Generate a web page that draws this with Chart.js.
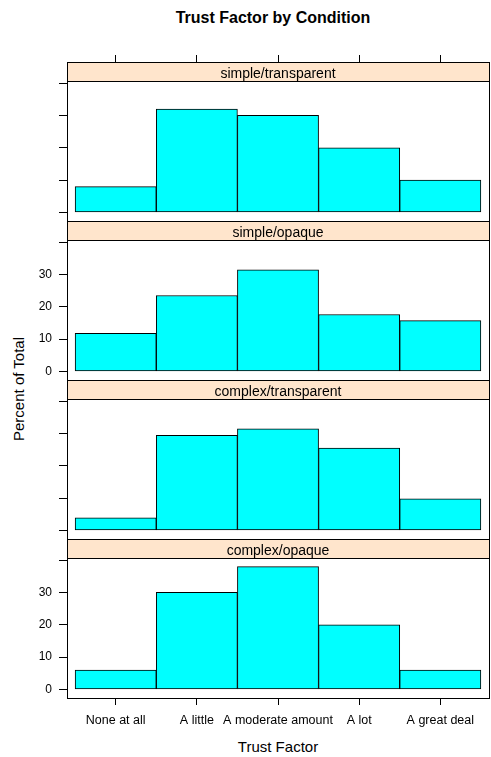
<!DOCTYPE html>
<html>
<head>
<meta charset="utf-8">
<title>Trust Factor by Condition</title>
<script src="https://cdn.jsdelivr.net/npm/chart.js@4.4.1/dist/chart.umd.min.js"></script>
<style>
  body { margin: 0; background: #fff; font-family: 'Liberation Sans', Arial, sans-serif; }
  #wrap { position: relative; width: 491px; height: 757px; overflow: hidden; }
  canvas { position: absolute; left: 0; top: 0; }
  .txt { position: absolute; color: #000; white-space: nowrap; }
  #title { left: 0; width: 546px; top: 8px; line-height: 20px; text-align: center; font-size: 16px; font-weight: bold; }
  #xtitle { left: 0; width: 556px; top: 737px; line-height: 20px; text-align: center; font-size: 15px; }
  #ytitle { left: 18px; top: 389px; font-size: 15px; transform: translate(-50%, -50%) rotate(-90deg); }
</style>
</head>
<body>
<div id="wrap">
  <div class="txt" id="title">Trust Factor by Condition</div>
  <div class="txt" id="xtitle">Trust Factor</div>
  <div class="txt" id="ytitle">Percent of Total</div>
  <canvas id="p0" width="491" height="757"></canvas>
  <canvas id="p1" width="491" height="757"></canvas>
  <canvas id="p2" width="491" height="757"></canvas>
  <canvas id="p3" width="491" height="757"></canvas>
</div>
<script>
const trustLevels = ["None at all", "A little", "A moderate amount", "A lot", "A great deal"];
const conditions = ["simple/transparent", "simple/opaque", "complex/transparent", "complex/opaque"];
const simpleTransparent = [8, 32, 30, 20, 10];
const simpleOpaque = [11.8, 23.5, 31.4, 17.6, 15.7];
const complexTransparent = [3.9, 29.4, 31.4, 25.5, 9.8];
const complexOpaque = [6, 30, 38, 20, 6];
const yTicks = [0, 10, 20, 30, 40];

// page layout (pixels)
const W = 491, H = 757;
const panelLeft = 67, panelRight = 489;
const firstStrip = 62, stripH = 19, plotH = 140;
const topAxisH = 26, bottomAxisH = 40;

Chart.defaults.font.family = "'Liberation Sans', Arial, sans-serif";
Chart.defaults.color = '#000';

// draws the lattice strip above each panel and the panel frame
const stripPlugin = {
  id: 'strip',
  afterDraw(chart, args, opts) {
    const ctx = chart.ctx;
    const a = chart.chartArea;
    const l = Math.round(a.left) + 0.5, r = Math.round(a.right) + 0.5;
    const t = Math.round(a.top) + 0.5, b = Math.round(a.bottom) + 0.5;
    const st = t - stripH;
    ctx.save();
    ctx.fillStyle = '#FFE5CC';
    ctx.fillRect(l, st, r - l, stripH);
    ctx.strokeStyle = '#000';
    ctx.lineWidth = 1;
    ctx.beginPath();
    ctx.moveTo(l, t); ctx.lineTo(r, t);
    ctx.stroke();
    ctx.strokeRect(l, st, r - l, b - st);
    ctx.fillStyle = '#000';
    ctx.font = "14px 'Liberation Sans', Arial, sans-serif";
    ctx.textAlign = 'center';
    ctx.textBaseline = 'alphabetic';
    ctx.fillText(opts.label, (a.left + a.right) / 2, a.top - 3);
    ctx.restore();
  }
};

function makePanel(id, idx, values) {
  const top = firstStrip + idx * (stripH + plotH) + stripH;
  const bottom = top + plotH;
  const showTop = idx === 0;
  const showBottom = idx === 3;
  const showX = showTop || showBottom;
  const showLabels = idx % 2 === 1;
  return new Chart(document.getElementById(id), {
    type: 'bar',
    data: {
      datasets: [{
        data: values.map((v, i) => ({ x: i + 1, y: v })),
        backgroundColor: '#00FFFF',
        borderColor: '#000',
        borderWidth: 1,
        borderSkipped: false,
        barPercentage: 1,
        categoryPercentage: 1
      }]
    },
    options: {
      responsive: false,
      animation: false,
      devicePixelRatio: 1,
      layout: {
        padding: {
          left: 0,
          right: W - panelRight,
          top: showTop ? top - topAxisH : top,
          bottom: showBottom ? H - bottom - bottomAxisH : H - bottom
        }
      },
      plugins: {
        legend: { display: false },
        tooltip: { enabled: false },
        strip: { label: conditions[idx] }
      },
      scales: {
        x: {
          type: 'linear',
          position: showBottom ? 'bottom' : 'top',
          display: showX,
          min: 0.4,
          max: 5.6,
          offset: false,
          afterBuildTicks: ax => { ax.ticks = trustLevels.map((t, i) => ({ value: i + 1 })); },
          afterFit: ax => { ax.height = showX ? (showTop ? topAxisH : bottomAxisH) : 0; },
          grid: { drawOnChartArea: false, offset: false, color: '#000', tickLength: showTop ? topAxisH : 7 },
          border: { display: false },
          ticks: {
            display: showBottom,
            autoSkip: false,
            maxRotation: 0,
            padding: 8,
            font: { size: 12.5 },
            callback: v => trustLevels[v - 1]
          }
        },
        y: {
          min: -2.66,
          max: 40.66,
          afterBuildTicks: ax => { ax.ticks = yTicks.map(v => ({ value: v })); },
          afterFit: ax => { ax.width = panelLeft; },
          grid: { drawOnChartArea: false, color: '#000', tickLength: 8 },
          border: { display: false },
          ticks: {
            padding: 7,
            font: { size: 12 },
            callback: v => (showLabels && v < 40) ? String(v) : ''
          }
        }
      }
    },
    plugins: [stripPlugin]
  });
}

makePanel('p0', 0, simpleTransparent);
makePanel('p1', 1, simpleOpaque);
makePanel('p2', 2, complexTransparent);
makePanel('p3', 3, complexOpaque);
</script>
</body>
</html>
